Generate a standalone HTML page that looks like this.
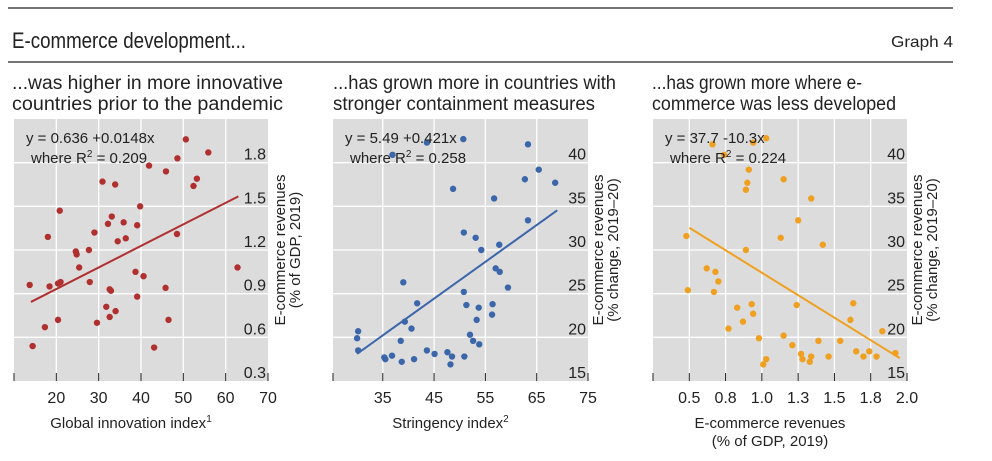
<!DOCTYPE html>
<html><head><meta charset="utf-8"><style>
body{margin:0;background:#fff;}
svg{display:block;font-family:"Liberation Sans",sans-serif;}
</style></head><body>
<svg id="chart" width="992" height="461" viewBox="0 0 992 461">
<line x1="8" y1="8" x2="953" y2="8" stroke="#222" stroke-width="1.2"/>
<text x="12" y="48" font-size="22" fill="#222" textLength="234" lengthAdjust="spacingAndGlyphs">E-commerce development...</text>
<text x="953" y="47" font-size="16" fill="#222" text-anchor="end" textLength="62" lengthAdjust="spacingAndGlyphs">Graph 4</text>
<line x1="8" y1="62" x2="953" y2="62" stroke="#222" stroke-width="1.2"/>
<g font-size="19" fill="#222">
<text x="12" y="89" textLength="271" lengthAdjust="spacingAndGlyphs">...was higher in more innovative</text>
<text x="12" y="110" textLength="271" lengthAdjust="spacingAndGlyphs">countries prior to the pandemic</text>
<text x="333" y="89" textLength="283" lengthAdjust="spacingAndGlyphs">...has grown more in countries with</text>
<text x="333" y="110" textLength="262" lengthAdjust="spacingAndGlyphs">stronger containment measures</text>
<text x="652" y="89" textLength="210" lengthAdjust="spacingAndGlyphs">...has grown more where e-</text>
<text x="652" y="110" textLength="244" lengthAdjust="spacingAndGlyphs">commerce was less developed</text>
</g>
</svg>
<script>
// Panel 1 data
const p1X=[13.7,14.4,18.4,18.0,17.3,20.4,20.8,20.4,21,24.6,24.8,25.4,27.7,27.9,29,29.6,30.9,32.2,33.1,33.9,32.6,32.9,31.8,32.6,34,34.5,35.9,36.4,39.1,39.8,38.7,40.6,39.1,41.9,43.1,45.9,45.8,46.5,48.5,48.6,50.6,52.4,53.2,55.9,62.8];
const p1Y=[0.96,0.54,0.95,1.29,0.67,0.72,1.47,0.97,0.98,1.19,1.17,1.08,1.20,0.98,1.32,0.70,1.67,1.38,1.43,1.65,0.93,0.92,0.81,0.74,0.78,1.26,1.39,1.28,1.37,1.50,1.05,1.02,0.88,1.78,0.53,1.74,0.94,0.72,1.31,1.83,1.96,1.64,1.69,1.87,1.08];
const p1XTicks=[20,30,40,50,60,70];
const p1XTickLabels=["20","30","40","50","60","70"];
const p1YTicks=[0.3,0.6,0.9,1.2,1.5,1.8];
const p1YTickLabels=["0.3","0.6","0.9","1.2","1.5","1.8"];
const p1Fit=[0.636,0.0148];
const p1FitRange=[14,63];
// Panel 2 data
const p2X=[30.2,30.0,30.2,35.3,35.5,36.8,38.7,38.5,39,39.3,40.6,41.1,41.7,43.6,45.1,47.6,48.2,48.5,48.7,50.8,50.8,50.9,51.3,52.0,52.6,53.3,53.7,53.8,53.1,54.2,56.3,56.4,56.7,57.0,57.8,57.7,59.4,62.7,63.3,63.3,65.4,68.6,50.7,43.6,36.9];
const p2Y=[20.7,19.9,18.5,17.7,17.5,17.9,17.2,19.6,26.3,21.8,21.0,17.5,23.9,18.5,18.1,18.3,16.9,17.8,37.0,25.2,32.0,17.8,23.7,20.3,19.6,22.0,23.4,19.2,31.4,30.0,22.6,23.8,35.9,27.9,27.5,30.6,25.7,38.1,33.4,42.1,39.2,37.7,42.7,42.3,40.9];
const p2XTicks=[35,45,55,65,75];
const p2XTickLabels=["35","45","55","65","75"];
const p2YTicks=[15,20,25,30,35,40];
const p2YTickLabels=["15","20","25","30","35","40"];
const p2Fit=[5.49,0.421];
const p2FitRange=[30,69];
// Panel 3 data
const p3X=[0.48,0.49,0.62,0.66,0.68,0.70,0.67,0.74,0.77,0.83,0.87,0.89,0.90,0.91,0.89,0.93,0.94,0.94,0.98,1.01,1.03,1.03,1.13,1.15,1.15,1.21,1.24,1.25,1.27,1.28,1.33,1.34,1.34,1.39,1.42,1.46,1.54,1.61,1.63,1.65,1.70,1.74,1.79,1.83,1.92];
const p3Y=[31.6,25.4,27.9,42.1,27.5,26.4,25.2,40.9,21.0,23.4,21.8,36.9,37.7,39.2,30.0,23.8,22.7,42.3,19.9,16.9,17.5,42.8,31.4,20.2,38.1,19.1,23.7,33.4,18.1,17.5,17.2,17.8,35.9,19.6,30.6,17.8,19.6,22.0,23.9,18.4,17.8,18.4,17.8,20.7,18.2];
const p3XTicks=[0.5,0.75,1.0,1.25,1.5,1.75,2.0];
const p3XTickLabels=["0.5","0.8","1.0","1.3","1.5","1.8","2.0"];
const p3YTicks=[15,20,25,30,35,40];
const p3YTickLabels=["15","20","25","30","35","40"];
const p3Fit=[37.7,-10.3];
const p3FitRange=[0.5,1.95];

const NS="http://www.w3.org/2000/svg";
const svg=document.getElementById('chart');
function mk(tag,attrs,parent){const e=document.createElementNS(NS,tag);for(const k in attrs)e.setAttribute(k,attrs[k]);(parent||svg).appendChild(e);return e;}

function panel(cfg){
  const {id,px0,px1,xmin,xmax,ymin,ymax,xs,ys,xt,xtl,yt,ytl,fit,fr,color,eq1,eq2,ylab1,ylab2,ylx,xlab,xlab2}=cfg;
  const py0=119,py1=381;
  const sx=v=>px0+(v-xmin)/(xmax-xmin)*(px1-px0);
  const sy=v=>py1-(v-ymin)/(ymax-ymin)*(py1-py0);
  const g=mk('g',{});
  
  
  const bg=mk('rect',{x:px0,y:py0,width:px1-px0,height:py1-py0,fill:'#dcdcdc'},g);
  
  
  xt.forEach((t,i)=>{
    const x=sx(t);
    if(x<px1-1){const l=mk('line',{x1:x,y1:py0,x2:x,y2:py1,stroke:'#fff','stroke-width':1.3},g);
    
    }
    const tk=mk('line',{x1:x,y1:py1-8,x2:x,y2:py1,stroke:'#222','stroke-width':1},g);
    
    
    const tl=mk('text',{x:x,y:403,'font-size':16,fill:'#222','text-anchor':'middle'},g);
    tl.textContent=xtl[i];
    
    
  });
  const lt=mk('line',{x1:px0,y1:py1-8,x2:px0,y2:py1,stroke:'#222','stroke-width':1},g);
  
  
  yt.forEach((t,i)=>{
    const y=sy(t);
    if(y<py1-1){const l=mk('line',{x1:px0,y1:y,x2:px1,y2:y,stroke:'#fff','stroke-width':1.3},g);
    
    }
    const tl=mk('text',{x:px1-2,y:y-3,'font-size':16,fill:'#222','text-anchor':'end'},g);
    tl.textContent=ytl[i];
    
    
  });
  xs.forEach((v,i)=>{
    const c=mk('circle',{cx:sx(v),cy:sy(ys[i]),r:3.2,fill:color},g);
    
    
  });
  const fl=mk('line',{x1:sx(fr[0]),y1:sy(fit[0]+fit[1]*fr[0]),x2:sx(fr[1]),y2:sy(fit[0]+fit[1]*fr[1]),stroke:color,'stroke-width':2},g);
  
  
  const e1=mk('text',{x:px0+12,y:143,'font-size':15,fill:'#222'},g);
  e1.textContent=eq1;
  
  
  const e2=mk('text',{x:px0+17,y:163,'font-size':15,fill:'#222'},g);
  e2.innerHTML=eq2;
  
  
  const yl=mk('text',{transform:`translate(${ylx},250) rotate(-90)`,'font-size':15,fill:'#222','text-anchor':'middle'},g);
  yl.innerHTML=`<tspan x="0" y="0">${ylab1}</tspan><tspan x="0" y="15">${ylab2}</tspan>`;
  
  
  const xl=mk('text',{x:(px0+px1)/2-10,y:428,'font-size':15,fill:'#222','text-anchor':'middle'},g);
  xl.innerHTML=xlab;
  
  
  if(xlab2){const x2=mk('text',{x:(px0+px1)/2-10,y:446,'font-size':15,fill:'#222','text-anchor':'middle'},g);
    x2.textContent=xlab2;
    
    }
}
const r2=v=>`where R<tspan dy="-6" font-size="10">2</tspan><tspan dy="6"> = ${v}</tspan>`;
panel({id:'panel1',px0:14,px1:268,xmin:10,xmax:70,ymin:0.3,ymax:2.1,xs:p1X,ys:p1Y,xt:p1XTicks,xtl:p1XTickLabels,yt:p1YTicks,ytl:p1YTickLabels,fit:p1Fit,fr:p1FitRange,color:'#b03030',eq1:'y = 0.636 +0.0148x',eq2:r2('0.209'),ylab1:'E-commerce revenues',ylab2:'(% of GDP, 2019)',ylx:285,xlab:'Global innovation index<tspan dy="-6" font-size="10">1</tspan>'});
panel({id:'panel2',px0:333,px1:588,xmin:25.3,xmax:75,ymin:15,ymax:45,xs:p2X,ys:p2Y,xt:p2XTicks,xtl:p2XTickLabels,yt:p2YTicks,ytl:p2YTickLabels,fit:p2Fit,fr:p2FitRange,color:'#3c66aa',eq1:'y = 5.49 +0.421x',eq2:r2('0.258'),ylab1:'E-commerce revenues',ylab2:'(% change, 2019–20)',ylx:603,xlab:'Stringency index<tspan dy="-6" font-size="10">2</tspan>'});
panel({id:'panel3',px0:653,px1:907,xmin:0.25,xmax:2.0,ymin:15,ymax:45,xs:p3X,ys:p3Y,xt:p3XTicks,xtl:p3XTickLabels,yt:p3YTicks,ytl:p3YTickLabels,fit:p3Fit,fr:p3FitRange,color:'#f0a020',eq1:'y = 37.7 -10.3x',eq2:r2('0.224'),ylab1:'E-commerce revenues',ylab2:'(% change, 2019–20)',ylx:922,xlab:'E-commerce revenues',xlab2:'(% of GDP, 2019)'});
</script>
</body></html>
